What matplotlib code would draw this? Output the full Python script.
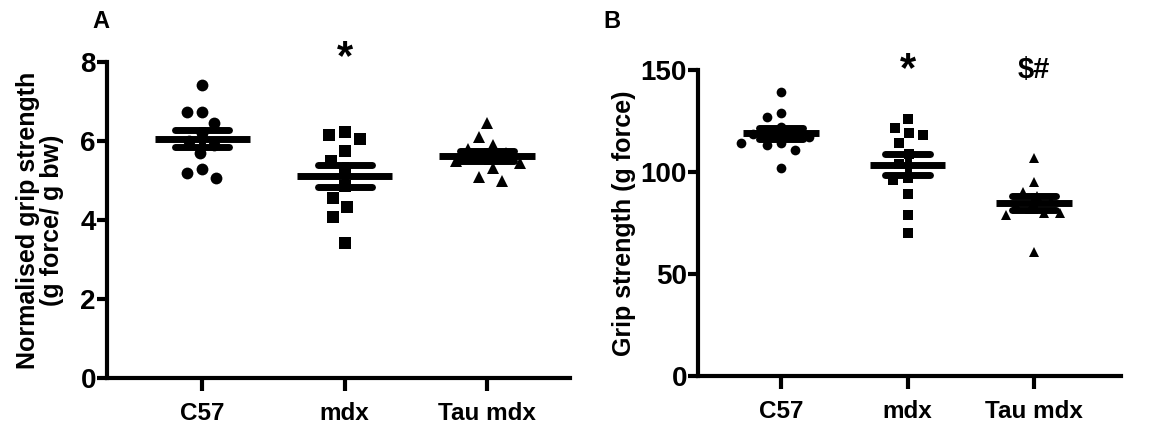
import matplotlib.pyplot as plt
import numpy as np

plt.rcParams["font.family"] = ["Liberation Sans", "DejaVu Sans"]
plt.rcParams["font.weight"] = "bold"

GROUPS = ["C57", "mdx", "Tau mdx"]

# Panel A: normalised grip strength (g force / g bw)
norm_c57 = [7.42, 6.73, 6.73, 6.46, 6.2, 6.0, 5.9, 5.70, 5.29, 5.19, 5.06]
norm_mdx = [6.23, 6.15, 6.05, 5.75, 5.5, 5.3, 4.85, 4.56, 4.33, 4.08, 3.42]
norm_tau = [6.45, 6.10, 5.9, 5.8, 5.7, 5.6, 5.5, 5.45, 5.31, 5.09, 4.99]

# Panel B: grip strength (g force)
grip_c57 = [139, 129, 127, 122, 120, 119, 118.5, 117, 114, 113, 114, 111, 102]
grip_mdx = [126, 121.5, 119, 118, 114, 109, 104, 97, 96, 89, 79, 70]
grip_tau = [107, 95, 90, 88, 86, 84, 82, 80, 80, 79, 61]

MARKERS = ["o", "s", "^"]


def swarm_offsets(ax, x, values, diam_px):
    # place points one by one, as close to the centre as they fit (pixel units)
    pts = ax.transData.transform(np.column_stack([np.full(len(values), x), values]))
    x0 = pts[0, 0]
    ys = pts[:, 1]
    placed = []
    xs_px = np.zeros(len(values))
    cands = np.arange(-6, 6.01, 0.125) * diam_px
    cands = cands[np.argsort(np.abs(cands), kind="stable")]
    for i in range(len(values)):
        for c in cands:
            ok = all((c - px) ** 2 + (ys[i] - py) ** 2 >= diam_px ** 2 for px, py in placed)
            if ok:
                placed.append((c, ys[i]))
                xs_px[i] = x0 + c
                break
    inv = ax.transData.inverted()
    return inv.transform(np.column_stack([xs_px, ys]))[:, 0]


def scatter_group(ax, x, values, marker, msize, fig, spacing=1.3):
    values = np.asarray(values, dtype=float)
    diam = msize * fig.dpi / 72.0 * spacing
    xs = swarm_offsets(ax, x, values, diam)
    ax.plot(xs, values, linestyle="none", marker=marker, markersize=msize,
            color="black", markeredgewidth=0, zorder=3, clip_on=False)


def mean_sem(ax, x, values, mean_w, sem_w, lw):
    values = np.asarray(values)
    m = values.mean()
    sem = values.std(ddof=1) / np.sqrt(len(values))
    ax.plot([x - mean_w / 2, x + mean_w / 2], [m, m], color="black", lw=lw,
            solid_capstyle="butt", zorder=4)
    for v in (m - sem, m + sem):
        ax.plot([x - sem_w / 2, x + sem_w / 2], [v, v], color="black", lw=lw,
                solid_capstyle="round", zorder=4)
    ax.plot([x, x], [m - sem, m + sem], color="black", lw=lw, zorder=4)


def style_axis(ax):
    for side in ("top", "right"):
        ax.spines[side].set_visible(False)
    for side in ("left", "bottom"):
        ax.spines[side].set_linewidth(3)
    ax.tick_params(axis="y", direction="out", length=7, width=3, labelsize=20, pad=1)
    ax.tick_params(axis="x", direction="out", length=9, width=3, labelsize=17.5, pad=8)
    for lab in ax.get_xticklabels() + ax.get_yticklabels():
        lab.set_fontweight("bold")


fig = plt.figure(figsize=(11.68, 4.24), dpi=100)

# ---- panel A ----
ax1 = fig.add_axes([0.0916, 0.108, 0.396, 0.746])
ax1.set_xlim(0.33, 3.58)
ax1.set_ylim(0, 8)
for i, (vals, mk) in enumerate(zip([norm_c57, norm_mdx, norm_tau], MARKERS)):
    scatter_group(ax1, i + 1, vals, mk, 8.5, fig)
    mean_sem(ax1, i + 1, vals, 0.67, 0.38, 5)
ax1.set_yticks([0, 2, 4, 6, 8])
ax1.set_xticks([1, 2, 3])
ax1.set_xticklabels(GROUPS)
ax1.set_ylabel("Normalised grip strength\n(g force/ g bw)", fontsize=18,
               fontweight="bold", labelpad=12, linespacing=1.0)
style_axis(ax1)
ax1.text(2, 8.1, "*", ha="center", va="center", fontsize=30, fontweight="bold",
         clip_on=False)
fig.text(0.086, 0.95, "A", fontsize=17, fontweight="bold", ha="center", va="center")

# ---- panel B ----
ax2 = fig.add_axes([0.5976, 0.113, 0.362, 0.722])
ax2.set_xlim(0.34, 3.69)
ax2.set_ylim(0, 150)
for i, (vals, mk) in enumerate(zip([grip_c57, grip_mdx, grip_tau], MARKERS)):
    scatter_group(ax2, i + 1, vals, mk, 7, fig, spacing=1.45)
    mean_sem(ax2, i + 1, vals, 0.6, 0.35, 5)
ax2.set_yticks([0, 50, 100, 150])
ax2.set_xticks([1, 2, 3])
ax2.set_xticklabels(GROUPS)
ax2.set_ylabel("Grip strength (g force)", fontsize=18, fontweight="bold", labelpad=3)
style_axis(ax2)
ax2.text(2, 150, "*", ha="center", va="center", fontsize=30, fontweight="bold",
         clip_on=False)
ax2.text(3, 150, "$#", ha="center", va="center", fontsize=21, fontweight="bold",
         clip_on=False)
fig.text(0.524, 0.95, "B", fontsize=17, fontweight="bold", ha="center", va="center")

fig.savefig("out.png", dpi=100)
